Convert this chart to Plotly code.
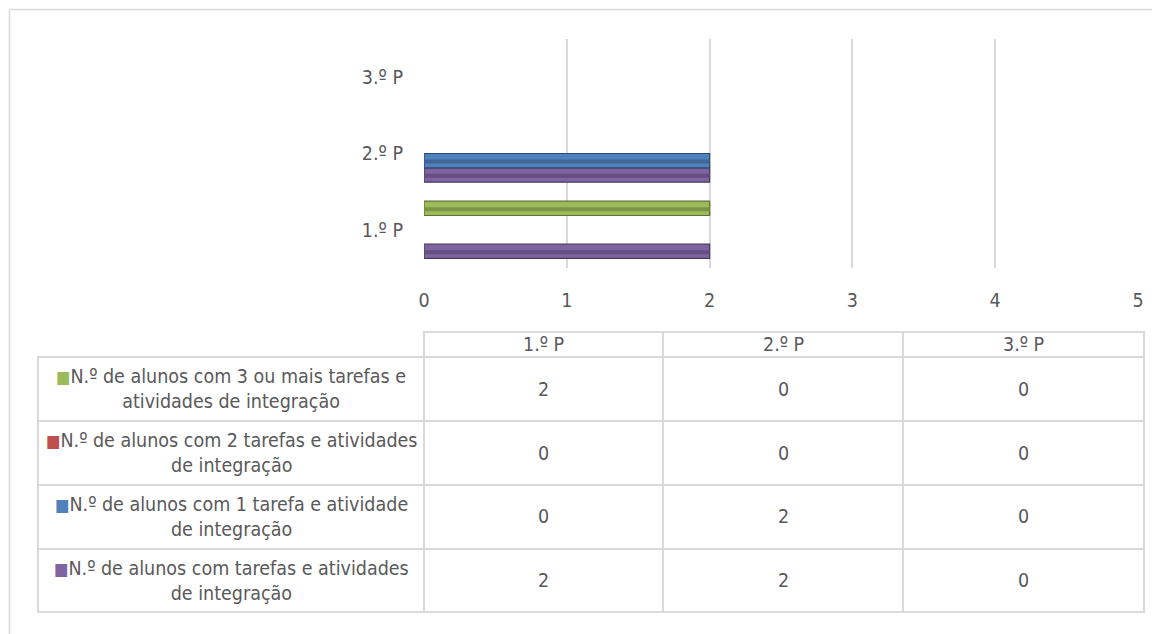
import plotly.graph_objects as go

# categories and series
categories = ['1.º P', '2.º P', '3.º P']
series_names = [
    'N.º de alunos com tarefas e atividades<br>de integração',
    'N.º de alunos com 1 tarefa e atividade<br>de integração',
    'N.º de alunos com 2 tarefas e atividades<br>de integração',
    'N.º de alunos com 3 ou mais tarefas e<br>atividades de integração',
]
com_tarefas = [2, 2, 0]
uma_tarefa = [0, 2, 0]
duas_tarefas = [0, 0, 0]
tres_ou_mais = [2, 0, 0]
series_values = [com_tarefas, uma_tarefa, duas_tarefas, tres_ou_mais]

colors = ['#8064A2', '#4F81BD', '#C0504D', '#9BBB59']
bands = ['#5E4A79', '#3A5F8C', '#8E3B39', '#728C42']
edges = ['#4A3A5F', '#2C4A6E', '#742E2C', '#5C7033']

FONT = 'DejaVu Sans Condensed, Liberation Sans Narrow, Roboto, sans-serif'
FS = 19.5
TXT = '#595959'
GRID = '#D9D9D9'

# page body has an 8px margin, so the figure is drawn 8px in from the corner
OFF = 8
W, H = 1160 - OFF, 634 - OFF
X0, X1, Y0, Y1 = 424, 1138, 39, 268   # plot area in screen pixels


def px(x):
    return (x - X0) / (X1 - X0)


def py(y):
    return (Y1 - y) / (Y1 - Y0)


fig = go.Figure()
bw = 0.75 / len(series_values)   # each bar's thickness in category units
for k, (name, vals, c, b, e) in enumerate(zip(series_names, series_values, colors, bands, edges)):
    off = -0.375 + k * bw
    fig.add_trace(go.Bar(
        y=categories, x=vals, orientation='h', name=name.replace('<br>', ' '),
        width=bw, offset=off,
        marker=dict(color=c, line=dict(color=e, width=[1.2 if v else 0 for v in vals])),
        showlegend=False,
    ))
    # darker bevel band through the lower middle of each bar
    fig.add_trace(go.Bar(
        y=categories, x=vals, orientation='h', width=bw * 0.28, offset=off + bw * 0.3,
        marker=dict(color=b, line=dict(width=0)), opacity=0.8,
        showlegend=False, hoverinfo='skip',
    ))

shapes = []
annotations = []


def label(x, y, text):
    annotations.append(dict(xref='paper', yref='paper', x=px(x), y=py(y), text=text,
                            showarrow=False, xanchor='center', yanchor='middle', align='center',
                            font=dict(size=FS, color=TXT, family=FONT)))


def cell(xa, xb, ya, yb):
    shapes.append(dict(type='rect', xref='paper', yref='paper', x0=px(xa), x1=px(xb),
                       y0=py(ya), y1=py(yb), line=dict(color=GRID, width=2)))


# outer chart frame (cut by the screenshot at right and bottom)
shapes.append(dict(type='line', xref='paper', yref='paper', x0=px(9), x1=px(1170),
                   y0=py(9.5), y1=py(9.5), line=dict(color=GRID, width=1.5)))
shapes.append(dict(type='line', xref='paper', yref='paper', x0=px(9.5), x1=px(9.5),
                   y0=py(9), y1=py(640), line=dict(color=GRID, width=1.5)))

# data table
col_x = [424, 663, 903, 1144]
row_y = [357, 421, 485, 549, 612]
hdr_top = 332
for i, cat in enumerate(categories):
    cell(col_x[i], col_x[i + 1], hdr_top, row_y[0])
    label((col_x[i] + col_x[i + 1]) / 2, (hdr_top + row_y[0]) / 2, cat)

table_order = [3, 2, 1, 0]   # green, red, blue, purple from top
for r, s in enumerate(table_order):
    ya, yb = row_y[r], row_y[r + 1]
    cell(38, col_x[0], ya, yb)
    label((38 + col_x[0]) / 2, (ya + yb) / 2,
          f'<span style="color:{colors[s]};font-size:17px">■</span>{series_names[s]}')
    for i in range(len(categories)):
        cell(col_x[i], col_x[i + 1], ya, yb)
        label((col_x[i] + col_x[i + 1]) / 2, (ya + yb) / 2, str(series_values[s][i]))

fig.update_layout(
    width=W, height=H,
    margin=dict(l=X0 - OFF, r=W - (X1 - OFF), t=Y0 - OFF, b=H - (Y1 - OFF), autoexpand=False),
    plot_bgcolor='white', paper_bgcolor='white',
    barmode='overlay',
    font=dict(family=FONT, size=FS, color=TXT),
    shapes=shapes, annotations=annotations,
)
fig.update_xaxes(range=[0, 5], dtick=1, showgrid=True, gridcolor=GRID, gridwidth=2,
                 zeroline=False, showline=False, ticks='', ticklabelstandoff=18)
fig.update_yaxes(showgrid=False, zeroline=False, showline=False, ticks='', range=[-0.5, 2.5],
                 ticklabelstandoff=20, categoryorder='array', categoryarray=categories)

fig.write_html('out.html')
